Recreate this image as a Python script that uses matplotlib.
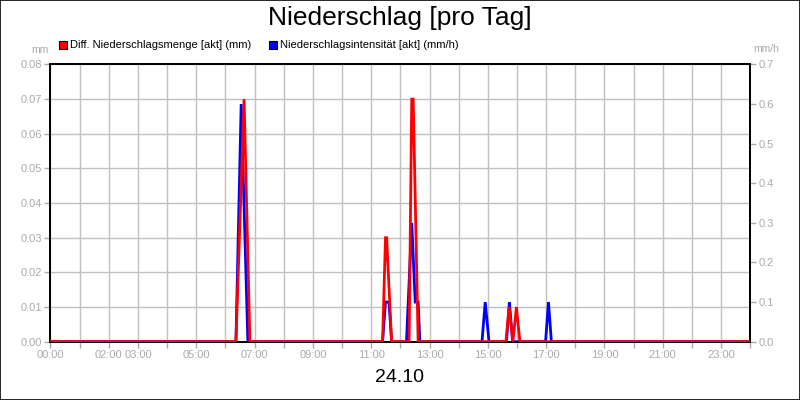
import matplotlib
matplotlib.use("Agg")
import matplotlib.pyplot as plt
from matplotlib.patches import Rectangle

plt.rcParams["font.family"] = ["Liberation Sans", "DejaVu Sans"]

# hours of the day (24.10) and values
red_hours = [0, 6.36, 6.64, 6.84, 11.39, 11.49, 11.53, 11.70, 12.30, 12.39, 12.44, 12.61,
             15.62, 15.73, 15.86, 15.98, 16.10, 24]
red_mm = [0, 0, 0.07, 0, 0, 0.03, 0.03, 0, 0, 0.07, 0.07, 0,
          0, 0.01, 0, 0.01, 0, 0]

blue_hours = [0, 6.36, 6.54, 6.77, 11.39, 11.49, 11.61, 11.70, 12.21, 12.39, 12.51, 12.61, 12.67,
              14.80, 14.91, 15.04, 15.64, 15.74, 15.85, 16.98, 17.08, 17.18, 24]
blue_mmh = [0, 0, 0.6, 0, 0, 0.1, 0.1, 0, 0, 0.3, 0.1, 0.1, 0,
            0, 0.1, 0, 0, 0.1, 0, 0, 0.1, 0, 0]

hour_ticks = list(range(25))
hour_labels = {0: "00:00", 2: "02:00", 3: "03:00", 5: "05:00", 7: "07:00", 9: "09:00",
               11: "11:00", 13: "13:00", 15: "15:00", 17: "17:00", 19: "19:00",
               21: "21:00", 23: "23:00"}
left_ticks = [0.00, 0.01, 0.02, 0.03, 0.04, 0.05, 0.06, 0.07, 0.08]
right_ticks = [0.0, 0.1, 0.2, 0.3, 0.4, 0.5, 0.6, 0.7]

RED = "#ff0000"
BLUE = "#0000ff"
GRAY = "#aaaaaa"
GRID = "#c0c0c0"

fig = plt.figure(figsize=(8, 4), dpi=100)
fig.patch.set_facecolor("white")
ax = fig.add_axes([0.0631, 0.1458, 0.8747, 0.693])
ax2 = ax.twinx()
ax3 = ax.twinx()

ax.set_xlim(0, 24)
ax.set_ylim(0, 0.08)
ax2.set_ylim(0, 0.7)
ax3.set_ylim(0, 0.08)

ax.set_xticks(hour_ticks)
ax.set_xticklabels([hour_labels.get(h, "") for h in hour_ticks])
ax.set_yticks(left_ticks)
ax.set_yticklabels([f"{v:.2f}" for v in left_ticks])
ax2.set_yticks(right_ticks)
ax2.set_yticklabels([f"{v:.1f}" for v in right_ticks])

ax.grid(True, color=GRID, linewidth=1.0)
ax.set_axisbelow(True)

for a in (ax, ax2):
    a.tick_params(colors=GRAY, labelcolor=GRAY, labelsize=8, length=4, width=1, pad=2)
    for s in a.spines.values():
        s.set_color("black")
        s.set_linewidth(1.3)
ax3.axis("off")

ax2.plot(blue_hours, blue_mmh, color=BLUE, linewidth=2.0, solid_joinstyle="miter")
ax3.plot(red_hours, red_mm, color=RED, linewidth=2.0, solid_joinstyle="miter")

fig.text(0.5, 0.955, "Niederschlag [pro Tag]", ha="center", va="center", fontsize=19)
fig.text(0.5, 0.055, "24.10", ha="center", va="center", fontsize=14)
fig.text(0.0495, 0.875, "mm", ha="center", va="center", fontsize=7.5, color=GRAY)
fig.text(0.958, 0.878, "mm/h", ha="center", va="center", fontsize=7.5, color=GRAY)

# legend drawn as squares + text like the original
for x0, color, label in [(58.5, RED, "Diff. Niederschlagsmenge [akt] (mm)"),
                         (268.5, BLUE, "Niederschlagsintensität [akt] (mm/h)")]:
    fig.patches.append(Rectangle((x0 / 800, 1 - 49 / 400), 8 / 800, 8 / 400,
                                 transform=fig.transFigure, facecolor=color,
                                 edgecolor="black", linewidth=0.8))
    fig.text((x0 + 11) / 800, 1 - 45 / 400, label, ha="left", va="center", fontsize=8)

fig.patches.append(Rectangle((0.0006, 0.0012), 0.9988, 0.9976, transform=fig.transFigure,
                             fill=False, edgecolor="black", linewidth=1.2))

fig.savefig("out.png", dpi=100, facecolor="white")
